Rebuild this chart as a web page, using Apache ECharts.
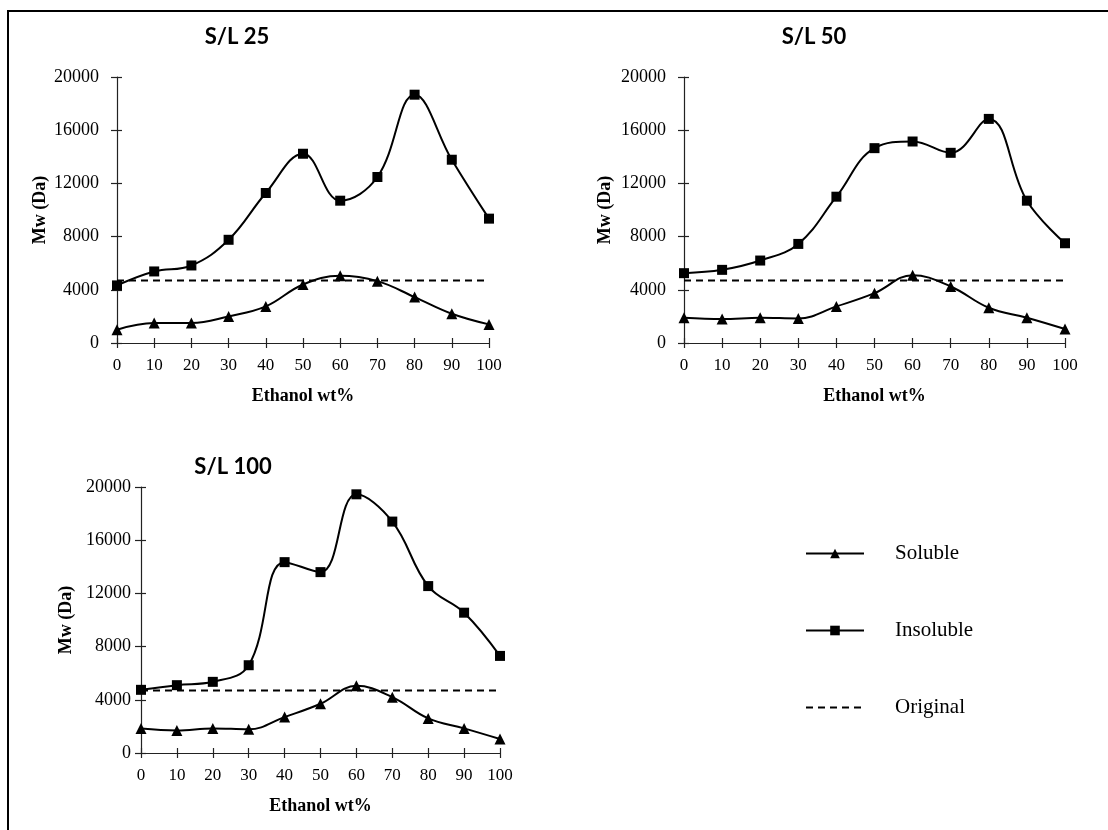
<!DOCTYPE html>
<html>
<head>
<meta charset="utf-8">
<title>Mw vs ethanol content</title>
<script src="https://cdn.jsdelivr.net/npm/echarts@6/dist/echarts.min.js"></script>
<style>
  html, body { margin: 0; padding: 0; background: #fff; }
  #chart { width: 1108px; height: 830px; }
</style>
</head>
<body>
<div id="chart"></div>
<script>
// Ethanol content of the extraction solvent (wt%)
const ethanolWt = [0, 10, 20, 30, 40, 50, 60, 70, 80, 90, 100];

// Panel titles (solid-to-liquid ratio)
const panelTitles = ['S/L 25', 'S/L 50', 'S/L 100'];

// Weight-average molecular weight (Da) of the soluble fraction
const soluble25  = [1000, 1500, 1500, 2000, 2750, 4400, 5050, 4650, 3450, 2200, 1400];
const soluble50  = [1900, 1800, 1900, 1850, 2750, 3750, 5100, 4250, 2650, 1900, 1050];
const soluble100 = [1850, 1700, 1850, 1780, 2700, 3700, 5050, 4200, 2600, 1850, 1050];

// Weight-average molecular weight (Da) of the insoluble fraction
const insoluble25  = [4330, 5380, 5830, 7760, 11280, 14230, 10700, 12480, 18670, 13780, 9350];
const insoluble50  = [5250, 5500, 6200, 7450, 11000, 14650, 15150, 14300, 16850, 10700, 7500];
const insoluble100 = [4750, 5100, 5350, 6600, 14350, 13600, 19450, 17400, 12550, 10550, 7300];

// Mw of the original (untreated) material
const originalMw = 4700;

// Axis ticks
const yTicks = { min: 0, max: 20000, interval: 4000 };
const xTicks = { min: 0, max: 100, interval: 10 };

const solubleSets = [soluble25, soluble50, soluble100];
const insolubleSets = [insoluble25, insoluble50, insoluble100];

const SERIF = "'Liberation Serif', 'Times New Roman', serif";
const INK = '#000';
const AXIS = '#222';

// plot rectangles of the three panels
const grids = [
  { left: 117, top: 77,  width: 372, height: 266 },
  { left: 684, top: 77,  width: 381, height: 266 },
  { left: 141, top: 487, width: 359, height: 266 }
];
const yLabelMargin = [18, 18, 10];
const yNameGap = [68, 70, 66];
const titlePos = [[237, 37], [814, 37], [233, 467]];

const xAxes = [], yAxes = [], series = [];

grids.forEach((g, i) => {
  // main axes with labels and outward ticks
  xAxes.push({
    type: 'value', gridIndex: i, min: xTicks.min, max: xTicks.max, interval: xTicks.interval,
    name: 'Ethanol wt%', nameLocation: 'middle', nameGap: 44,
    nameTextStyle: { fontFamily: SERIF, fontWeight: 'bold', fontSize: 18, color: INK },
    axisLine: { show: true, onZero: false, lineStyle: { color: AXIS, width: 1.2 } },
    axisTick: { show: true, inside: false, length: 5, lineStyle: { color: AXIS, width: 1.2 } },
    axisLabel: { fontFamily: SERIF, fontSize: 17, color: INK, margin: 14 },
    splitLine: { show: false }
  });
  // companion axis that adds the inward half of each crossing tick
  xAxes.push({
    type: 'value', gridIndex: i, min: xTicks.min, max: xTicks.max, interval: xTicks.interval,
    position: 'bottom',
    axisLine: { show: false, onZero: false },
    axisTick: { show: true, inside: true, length: 5, lineStyle: { color: AXIS, width: 1.2 } },
    axisLabel: { show: false },
    splitLine: { show: false }
  });
  yAxes.push({
    type: 'value', gridIndex: i, min: yTicks.min, max: yTicks.max, interval: yTicks.interval,
    name: 'Mw (Da)', nameLocation: 'middle', nameGap: yNameGap[i], nameRotate: 90,
    nameTextStyle: { fontFamily: SERIF, fontWeight: 'bold', fontSize: 18, color: INK },
    axisLine: { show: true, onZero: false, lineStyle: { color: AXIS, width: 1.2 } },
    axisTick: { show: true, inside: false, length: 6, lineStyle: { color: AXIS, width: 1.2 } },
    axisLabel: {
      fontFamily: SERIF, fontSize: 18, color: INK, margin: yLabelMargin[i],
      formatter: v => String(v)
    },
    splitLine: { show: false }
  });
  yAxes.push({
    type: 'value', gridIndex: i, min: yTicks.min, max: yTicks.max, interval: yTicks.interval,
    position: 'left',
    axisLine: { show: false, onZero: false },
    axisTick: { show: true, inside: true, length: 5, lineStyle: { color: AXIS, width: 1.2 } },
    axisLabel: { show: false },
    splitLine: { show: false }
  });

  const xi = 2 * i, yi = 2 * i;
  series.push({
    name: 'Soluble', type: 'line', xAxisIndex: xi, yAxisIndex: yi,
    data: ethanolWt.map((x, k) => [x, solubleSets[i][k]]),
    smooth: 0.4, symbol: 'triangle', symbolSize: 11,
    lineStyle: { color: INK, width: 2 }, itemStyle: { color: INK },
    z: 3, silent: true
  });
  series.push({
    name: 'Insoluble', type: 'line', xAxisIndex: xi, yAxisIndex: yi,
    data: ethanolWt.map((x, k) => [x, insolubleSets[i][k]]),
    smooth: 0.4, symbol: 'rect', symbolSize: 10,
    lineStyle: { color: INK, width: 2 }, itemStyle: { color: INK },
    z: 3, silent: true
  });
  series.push({
    name: 'Original', type: 'line', xAxisIndex: xi, yAxisIndex: yi,
    data: [[xTicks.min, originalMw], [xTicks.max, originalMw]],
    symbol: 'circle', symbolSize: 0, showSymbol: false,
    lineStyle: { color: INK, width: 2, type: [7, 5] },
    itemStyle: { color: 'rgba(0,0,0,0)', borderWidth: 0 },
    z: 2, silent: true
  });
});

const graphics = [
  // frame edges
  { type: 'line', shape: { x1: 7, y1: 11, x2: 1108, y2: 11 }, style: { stroke: INK, lineWidth: 2 } },
  { type: 'line', shape: { x1: 8, y1: 10, x2: 8, y2: 830 }, style: { stroke: INK, lineWidth: 2 } }
];
panelTitles.forEach((t, i) => {
  graphics.push({
    type: 'text', x: titlePos[i][0], y: titlePos[i][1],
    style: {
      text: t, align: 'center', verticalAlign: 'middle',
      font: "bold 22px Lato, 'Open Sans', sans-serif", fill: INK
    }
  });
});

const chart = echarts.init(document.getElementById('chart'), null, { renderer: 'canvas' });
chart.setOption({
  animation: false,
  backgroundColor: '#fff',
  grid: grids.map(g => Object.assign({ containLabel: false }, g)),
  xAxis: xAxes,
  yAxis: yAxes,
  series: series,
  legend: {
    data: ['Soluble', 'Insoluble', 'Original'],
    orient: 'vertical', left: 805, top: 543, padding: 0,
    itemWidth: 58, itemHeight: 12, itemGap: 56,
    selectedMode: false,
    textStyle: { fontFamily: SERIF, fontSize: 21, color: INK, padding: [0, 0, 0, 26] }
  },
  graphic: graphics
});
</script>
</body>
</html>
